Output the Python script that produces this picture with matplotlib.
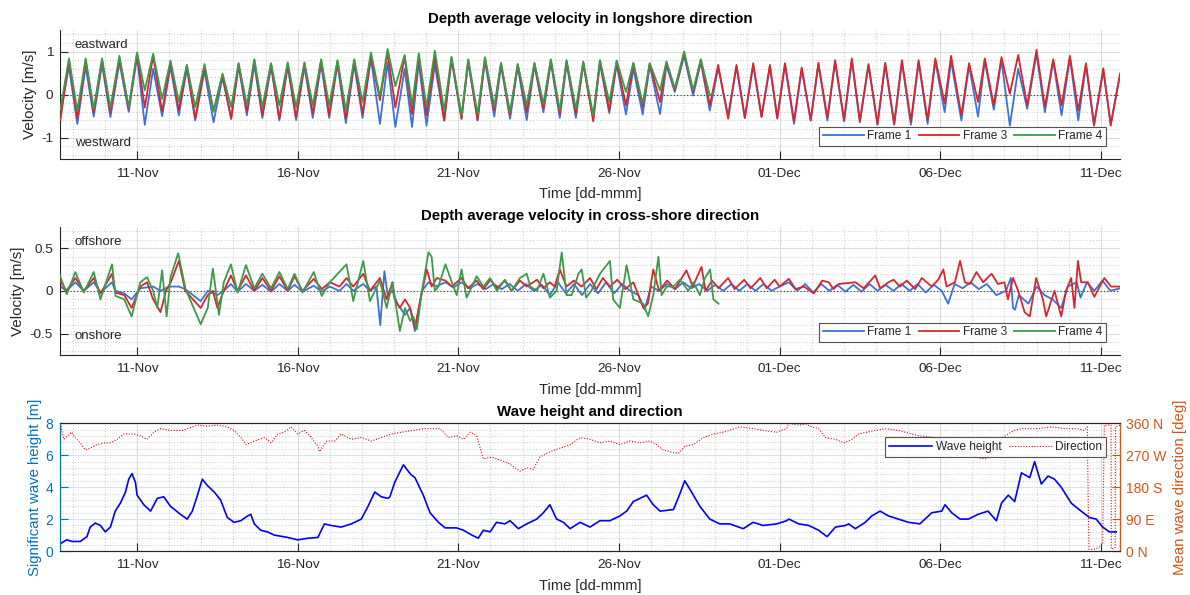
from datetime import datetime

import matplotlib
matplotlib.use("Agg")
import matplotlib.pyplot as plt
import matplotlib.dates as mdates
from matplotlib.ticker import MultipleLocator, FixedLocator, FormatStrFormatter
import numpy as np

plt.rcParams['font.family'] = ['Liberation Sans', 'DejaVu Sans']
plt.rcParams['axes.unicode_minus'] = False

# ---- longshore velocity: tidal turning points (day of November, Dec 1 = 31) ----
lng_t = [8.61, 8.88, 9.14, 9.40, 9.65, 9.91, 10.17, 10.45, 10.74, 11.0, 11.24, 11.5, 11.78,
         12.04, 12.3, 12.55, 12.81, 13.1, 13.38, 13.66, 13.93, 14.16, 14.42, 14.65, 14.9,
         15.17, 15.43, 15.69, 15.95, 16.21, 16.47, 16.73, 16.98, 17.24, 17.5, 17.76, 18.02,
         18.28, 18.56, 18.8, 19.04, 19.33, 19.56, 19.77, 20.01, 20.27, 20.56, 20.79, 21.1,
         21.31, 21.6, 21.83, 22.12, 22.33, 22.61, 22.85, 23.13, 23.37, 23.65, 23.88, 24.16,
         24.37, 24.66, 24.89, 25.2, 25.41, 25.7, 25.93, 26.22, 26.45, 26.74, 26.96, 27.28,
         27.48, 27.74, 28.03, 28.31, 28.55, 28.83, 29.09, 29.4, 29.66, 29.92, 30.18, 30.44,
         30.7, 30.93, 31.17, 31.45, 31.69, 31.97, 32.21, 32.49, 32.73, 33.01, 33.25, 33.5,
         33.77, 34.05, 34.29, 34.57, 34.81, 35.09, 35.33, 35.61, 35.85, 36.14, 36.34, 36.66,
         36.9, 37.18, 37.39, 37.67, 37.91, 38.17, 38.43, 38.71, 39.0, 39.26, 39.52, 39.78,
         40.04, 40.3, 40.54, 40.79, 41.08, 41.31, 41.6]
lng_f1 = [-0.45, 0.65, -0.68, 0.65, -0.51, 0.7, -0.52, 0.75, -0.4, 0.88, -0.7, 0.6, -0.5,
          0.65, -0.48, 0.6, -0.6, 0.55, -0.64, 0.4, -0.56, 0.65, -0.48, 0.7, -0.54,
          0.65, -0.6, 0.65, -0.59, 0.65, -0.54, 0.7, -0.54, 0.7, -0.66, 0.7, -0.54,
          0.85, -0.68, 0.75, -0.75, 0.6, -0.75, 0.75, -0.72, 0.69, -0.6, 0.8, -0.56,
          0.75, -0.6, 0.78, -0.51, 0.68, -0.56, 0.65, -0.59, 0.68, -0.41, 0.75, -0.54,
          0.72, -0.54, 0.7, -0.56, 0.72, -0.43, 0.7, -0.46, 0.6, -0.46, 0.68, -0.45,
          0.68, 0.06, 0.9, -0.02, 0.75, -0.37, 0.62, -0.48, 0.65, -0.54, 0.68, -0.51,
          0.65, -0.56, 0.7, -0.68, 0.6, -0.6, 0.7, -0.6, 0.75, -0.62, 0.8, -0.64,
          0.68, -0.7, 0.7, -0.7, 0.75, -0.7, 0.75, -0.68, 0.78, -0.41, 0.78, -0.6,
          0.68, -0.51, 0.78, -0.35, 0.8, -0.72, 0.6, -0.33, 0.95, -0.41, 0.78, -0.48,
          0.85, -0.6, 0.68, -0.68, 0.55, -0.68, 0.45]
lng_f3 = [-0.6, 0.8, -0.56, 0.8, -0.41, 0.8, -0.43, 0.85, -0.33, 0.95, -0.3, 0.9, -0.4,
          0.75, -0.37, 0.68, -0.56, 0.65, -0.37, 0.45, -0.56, 0.72, -0.41, 0.8, -0.48,
          0.72, -0.56, 0.72, -0.54, 0.73, -0.45, 0.8, -0.48, 0.78, -0.56, 0.8, -0.45,
          0.9, -0.13, 0.98, -0.3, 0.88, -0.45, 0.9, -0.48, 0.88, -0.6, 0.85, -0.56,
          0.8, -0.59, 0.85, -0.37, 0.72, -0.48, 0.7, -0.41, 0.72, -0.33, 0.8, -0.45,
          0.78, -0.45, 0.75, -0.62, 0.78, -0.37, 0.77, -0.25, 0.72, -0.29, 0.72, -0.17,
          0.75, 0.1, 0.97, 0.06, 0.8, -0.25, 0.69, -0.56, 0.69, -0.54, 0.73, -0.52,
          0.69, -0.54, 0.73, -0.62, 0.63, -0.6, 0.74, -0.54, 0.8, -0.59, 0.84, -0.62,
          0.71, -0.68, 0.74, -0.68, 0.8, -0.62, 0.8, -0.59, 0.84, -0.21, 0.9, -0.48,
          0.73, -0.17, 0.84, -0.25, 0.87, 0.02, 0.92, -0.25, 1.04, -0.29, 0.82, -0.25,
          0.9, -0.37, 0.73, -0.72, 0.61, -0.72, 0.49]
lng_f4 = [-0.35, 0.84, -0.37, 0.84, -0.33, 0.84, -0.3, 0.9, -0.29, 0.98, 0.1, 0.95, -0.1,
          0.79, -0.17, 0.69, -0.29, 0.71, -0.4, 0.49, -0.29, 0.73, -0.25, 0.82, -0.29,
          0.73, -0.25, 0.75, -0.29, 0.75, -0.25, 0.82, -0.25, 0.8, -0.37, 0.82, -0.17,
          0.98, -0.05, 1.06, 0.2, 0.92, -0.25, 0.96, -0.29, 1.02, -0.37, 0.88, -0.48,
          0.82, -0.45, 0.87, -0.27, 0.74, -0.41, 0.71, -0.25, 0.74, -0.21, 0.82, -0.37,
          0.8, -0.33, 0.77, -0.48, 0.8, -0.17, 0.79, 0.06, 0.74, -0.21, 0.73, 0.1,
          0.77, 0.14, 1.0, 0.1, 0.82, -0.02, 0.05]
lng_f4_t = lng_t[:79] + [28.95]

# ---- cross-shore velocity ----
crs_f1_t = [8.58, 8.8, 9.08, 9.34, 9.65, 9.86, 10.22, 10.33, 10.6, 10.83, 11.1, 11.5, 11.73,
            12.0, 12.3, 12.5, 12.98, 13.2, 13.5, 13.7, 13.92, 14.13, 14.39, 14.65, 14.9,
            15.17, 15.43, 15.69, 15.9, 16.15, 16.5, 16.75, 17.0, 17.3, 17.52, 17.73, 18.04,
            18.25, 18.45, 18.57, 18.7, 18.8, 18.95, 19.1, 19.34, 19.5, 19.65, 19.87, 20.07,
            20.3, 20.6, 20.85, 21.1, 21.35, 21.6, 21.85, 22.1, 22.35, 22.6, 22.85, 23.1,
            23.35, 23.6, 23.85, 24.1, 24.35, 24.6, 24.85, 25.1, 25.35, 25.6, 25.85, 26.1,
            26.35, 26.6, 26.8, 27.0, 27.25, 27.5, 27.75, 28.0, 28.25, 28.5, 28.75, 29.0,
            29.25, 29.5, 29.75, 30.0, 30.25, 30.5, 30.75, 31.0, 31.29, 31.55, 31.8, 32.05,
            32.3, 32.55, 32.8, 33.05, 33.3, 33.55, 33.8, 34.05, 34.3, 34.55, 34.8, 35.05,
            35.3, 35.55, 35.8, 36.05, 36.25, 36.45, 36.7, 36.95, 37.2, 37.45, 37.75, 38.05,
            38.2, 38.27, 38.33, 38.45, 38.75, 39.0, 39.25, 39.5, 39.77, 39.97, 40.25, 40.37,
            40.57, 40.8, 41.05, 41.3, 41.6]
crs_f1 = [0.06, 0.0, 0.1, 0.0, 0.1, -0.02, 0.1, 0.0, -0.03, -0.1, 0.03, 0.05, 0.0,
          0.05, 0.05, 0.02, -0.12, 0.0, -0.05, 0.0, 0.08, -0.01, 0.08, 0.0, 0.07,
          -0.01, 0.08, 0.0, 0.07, -0.01, 0.06, -0.01, 0.05, 0.0, 0.08, 0.0, 0.08,
          0.0, 0.05, -0.4, 0.23, -0.05, 0.0, -0.15, -0.28, -0.2, -0.47, 0.0, 0.1,
          0.05, 0.1, 0.04, 0.1, 0.03, 0.08, 0.02, 0.08, 0.02, 0.08, 0.0, 0.08,
          0.0, 0.07, -0.05, 0.1, -0.03, 0.08, -0.05, 0.08, -0.03, 0.1, -0.03, 0.08,
          0.0, -0.05, -0.22, 0.05, 0.0, 0.08, 0.02, 0.1, 0.03, 0.08, 0.0, 0.07,
          0.0, 0.08, 0.0, 0.08, 0.0, 0.08, 0.0, 0.05, 0.1, 0.0, 0.08, -0.02,
          0.08, 0.0, 0.07, -0.01, 0.07, -0.01, 0.08, 0.0, 0.07, 0.0, 0.08, 0.0,
          0.08, -0.02, 0.07, 0.0, -0.15, 0.08, 0.03, 0.1, 0.02, 0.08, -0.05, 0.0,
          0.15, -0.2, -0.22, -0.05, -0.15, 0.05, -0.05, -0.1, -0.2, 0.05, 0.1, -0.08,
          0.1, 0.0, 0.12, 0.0, 0.03]
crs_f3_t = [8.58, 8.8, 9.08, 9.34, 9.65, 9.86, 10.22, 10.33, 10.6, 10.83, 11.1, 11.31, 11.5,
            11.73, 11.9, 12.05, 12.3, 12.5, 12.98, 13.2, 13.36, 13.5, 13.7, 13.92, 14.13,
            14.39, 14.65, 14.9, 15.17, 15.43, 15.69, 15.9, 16.15, 16.5, 16.75, 17.0, 17.3,
            17.52, 17.73, 18.04, 18.25, 18.56, 18.77, 18.95, 19.02, 19.18, 19.34, 19.5,
            19.65, 19.82, 20.02, 20.17, 20.33, 20.6, 20.8, 21.1, 21.3, 21.57, 21.78, 22.0,
            22.2, 22.45, 22.66, 22.92, 23.13, 23.45, 23.65, 23.85, 24.0, 24.16, 24.37, 24.6,
            24.84, 25.1, 25.3, 25.5, 25.72, 25.95, 26.2, 26.45, 26.76, 26.9, 27.07, 27.25,
            27.5, 27.75, 28.1, 28.3, 28.57, 28.7, 28.9, 29.1, 29.4, 29.6, 29.9, 30.1,
            30.4, 30.6, 30.85, 31.0, 31.29, 31.5, 31.76, 32.07, 32.33, 32.53, 32.68, 32.84,
            33.36, 33.62, 33.98, 34.13, 34.39, 34.55, 34.75, 34.96, 35.22, 35.43, 35.74,
            35.94, 36.1, 36.2, 36.46, 36.62, 36.77, 36.93, 37.13, 37.34, 37.6, 37.8, 38.0,
            38.11, 38.27, 38.43, 38.63, 38.79, 38.99, 39.2, 39.3, 39.56, 39.77, 39.92,
            40.08, 40.18, 40.29, 40.39, 40.6, 40.8, 41.11, 41.32, 41.6]
crs_f3 = [0.13, 0.0, 0.15, 0.0, 0.15, -0.03, 0.2, -0.02, -0.05, -0.2, 0.05, 0.1, -0.1,
          -0.25, 0.0, 0.1, 0.35, 0.0, -0.2, -0.05, 0.0, -0.2, 0.0, 0.18, 0.0,
          0.18, 0.0, 0.15, 0.0, 0.17, 0.0, 0.17, 0.0, 0.14, 0.02, 0.1, 0.05,
          0.15, 0.05, 0.2, 0.0, 0.15, -0.1, 0.1, -0.1, -0.2, -0.1, -0.2,
          -0.43, -0.1, 0.25, 0.05, 0.15, 0.12, 0.05, 0.15, 0.03, 0.12, 0.02, 0.13,
          0.03, 0.12, 0.0, 0.12, 0.05, 0.13, 0.03, 0.1, 0.05, 0.25, 0.05, 0.12,
          0.05, 0.15, 0.02, 0.15, 0.05, 0.13, 0.02, 0.1, -0.2, -0.15, 0.25, 0.0,
          0.12, 0.02, 0.24, 0.05, 0.28, 0.0, 0.12, 0.03, 0.15, 0.02, 0.13, 0.03,
          0.15, 0.03, 0.13, 0.05, 0.14, 0.02, 0.05, -0.03, 0.12, 0.1, 0.02, 0.08,
          0.1, 0.03, 0.18, 0.03, 0.1, 0.13, 0.05, 0.12, 0.02, 0.15, 0.05,
          0.13, 0.25, 0.05, 0.1, 0.35, 0.1, 0.08, 0.22, 0.1, 0.2, 0.08, 0.1,
          -0.1, 0.15, 0.0, -0.25, -0.3, 0.15, -0.1, -0.3, 0.0, -0.3, 0.0,
          0.15, -0.2, 0.35, 0.1, 0.1, -0.07, 0.15, 0.05, 0.05]
crs_f4_t = [8.58, 8.81, 9.08, 9.34, 9.65, 9.86, 10.22, 10.33, 10.6, 10.83, 11.1, 11.31, 11.5,
            11.63, 11.78, 11.92, 12.04, 12.28, 12.51, 12.98, 13.2, 13.36, 13.55, 13.7, 13.92,
            14.13, 14.39, 14.65, 14.9, 15.17, 15.43, 15.69, 15.9, 16.15, 16.5, 16.75, 17.0,
            17.52, 17.73, 18.04, 18.25, 18.56, 18.77, 18.95, 19.18, 19.34, 19.5, 19.6, 19.71,
            19.87, 20.07, 20.17, 20.27, 20.38, 20.6, 20.8, 20.95, 21.1, 21.26, 21.57, 21.78,
            21.99, 22.2, 22.45, 22.66, 22.92, 23.13, 23.24, 23.45, 23.65, 23.85, 24.06, 24.22,
            24.37, 24.53, 24.74, 24.84, 24.98, 25.14, 25.41, 25.72, 25.82, 26.03, 26.24, 26.45,
            26.76, 26.91, 27.07, 27.23, 27.33, 27.49, 27.7, 27.9, 28.16, 28.32, 28.52, 28.68,
            28.84, 28.94, 29.1]
crs_f4 = [0.2, -0.04, 0.22, -0.02, 0.22, -0.1, 0.31, -0.06, -0.1, -0.3, 0.1, 0.16, 0.0,
          -0.2, 0.24, -0.3, 0.16, 0.44, 0.02, -0.39, -0.2, 0.26, -0.28, 0.1, 0.31,
          -0.02, 0.3, 0.03, 0.2, 0.03, 0.22, 0.02, 0.2, -0.02, 0.22, -0.06, 0.1,
          0.31, -0.12, 0.35, -0.12, 0.12, -0.2, 0.1, -0.47, -0.2, -0.35, -0.3, -0.45,
          0.0, 0.45, 0.4, 0.0, 0.05, 0.31, 0.1, -0.05, 0.25, -0.08, 0.17, 0.05,
          0.15, 0.0, 0.13, 0.0, 0.15, 0.2, 0.05, 0.0, 0.2, -0.08, 0.0, 0.45,
          -0.05, -0.05, 0.2, 0.25, -0.08, 0.0, 0.2, 0.35, -0.1, -0.2, 0.3, -0.1,
          -0.15, -0.3, -0.05, 0.4, -0.05, 0.05, 0.05, 0.13, 0.0, 0.1, -0.05, 0.15,
          0.25, -0.1, -0.15]

# ---- wave height and mean direction ----
hs_t = [8.6, 8.81, 8.97, 9.23, 9.44, 9.54, 9.7, 9.86, 10.01, 10.17, 10.32, 10.48, 10.64,
        10.74, 10.84, 10.95, 11.0, 11.21, 11.42, 11.63, 11.83, 12.04, 12.35, 12.56, 12.72,
        12.88, 13.03, 13.19, 13.4, 13.6, 13.81, 14.02, 14.23, 14.44, 14.54, 14.65, 14.85,
        15.06, 15.27, 15.69, 16.0, 16.31, 16.63, 16.83, 17.04, 17.35, 17.67, 17.98, 18.19,
        18.4, 18.6, 18.81, 18.87, 19.02, 19.29, 19.52, 19.65, 19.91, 20.12, 20.38, 20.59,
        20.95, 21.16, 21.42, 21.62, 21.78, 21.99, 22.19, 22.45, 22.61, 22.87, 23.13, 23.44,
        23.65, 23.85, 24.06, 24.27, 24.48, 24.79, 25.1, 25.41, 25.72, 26.03, 26.24, 26.45,
        26.86, 27.07, 27.28, 27.7, 27.9, 28.05, 28.26, 28.52, 28.83, 29.14, 29.45, 29.87,
        30.18, 30.49, 30.91, 31.22, 31.29, 31.6, 31.91, 32.22, 32.48, 32.74, 33.05, 33.15,
        33.36, 33.67, 33.87, 34.13, 34.39, 34.7, 35.01, 35.37, 35.53, 35.74, 36.05, 36.15,
        36.36, 36.62, 36.88, 37.18, 37.49, 37.75, 37.91, 38.12, 38.32, 38.53, 38.79, 38.94,
        39.15, 39.36, 39.56, 39.77, 40.08, 40.39, 40.65, 40.86, 41.06, 41.27, 41.48]
hs = [0.45, 0.7, 0.6, 0.6, 0.9, 1.5, 1.75, 1.6, 1.2, 1.5, 2.5, 3.0, 3.7,
      4.5, 4.85, 4.3, 3.5, 2.9, 2.5, 3.3, 3.4, 2.8, 2.3, 2.0, 2.5,
      3.5, 4.5, 4.1, 3.7, 3.2, 2.1, 1.8, 1.9, 2.2, 2.3, 1.7, 1.3,
      1.2, 1.0, 0.85, 0.7, 0.8, 0.85, 1.7, 1.6, 1.5, 1.7, 2.0, 2.8,
      3.7, 3.4, 3.3, 3.4, 4.3, 5.4, 4.8, 4.6, 3.5, 2.4, 1.8, 1.45,
      1.45, 1.3, 1.0, 0.8, 1.3, 1.2, 1.8, 1.7, 1.9, 1.4, 1.7, 2.0,
      2.4, 2.9, 2.0, 1.8, 1.4, 1.8, 1.5, 1.9, 1.9, 2.2, 2.5, 3.1,
      3.5, 2.9, 2.5, 2.6, 3.6, 4.4, 3.7, 2.8, 2.0, 1.7, 1.7, 1.4,
      1.8, 1.6, 1.7, 1.9, 2.0, 1.7, 1.6, 1.3, 0.9, 1.5, 1.6, 1.7,
      1.4, 1.8, 2.2, 2.5, 2.2, 2.0, 1.8, 1.7, 2.0, 2.4, 2.5, 2.9,
      2.4, 2.0, 2.0, 2.3, 2.5, 1.9, 3.0, 3.5, 3.1, 4.9, 4.6, 5.6,
      4.2, 4.7, 4.5, 4.0, 3.0, 2.5, 2.1, 2.0, 1.5, 1.2, 1.2]

dir_t = [8.6, 8.62, 8.72, 8.83, 8.97, 9.07, 9.23, 9.39, 9.54, 9.75, 9.96, 10.17, 10.38,
         10.58, 10.9, 11.1, 11.31, 11.52, 11.73, 12.04, 12.41, 12.56, 12.88, 13.19, 13.5,
         13.81, 14.02, 14.23, 14.39, 14.65, 14.96, 15.17, 15.38, 15.58, 15.79, 16.0, 16.21,
         16.42, 16.63, 16.68, 16.9, 17.15, 17.35, 17.67, 17.98, 18.29, 18.6, 18.92, 19.23,
         19.91, 20.43, 20.54, 20.69, 20.95, 21.16, 21.37, 21.57, 21.78, 22.04, 22.35, 22.61,
         22.92, 23.13, 23.33, 23.54, 23.85, 24.17, 24.48, 24.79, 25.1, 25.41, 25.72, 26.03,
         26.34, 26.65, 26.96, 27.17, 27.38, 27.59, 27.85, 28.05, 28.32, 28.63, 28.94, 29.25,
         29.77, 30.18, 30.49, 30.91, 31.22, 31.29, 31.6, 31.81, 32.01, 32.22, 32.43, 32.74,
         33.0, 33.26, 33.46, 33.87, 34.29, 34.7, 35.12, 35.33, 35.8, 36.4, 36.8, 37.2,
         37.45, 37.6, 37.95, 38.3, 38.53, 39.05, 39.46, 39.88, 40.27, 40.48, 40.58, 40.63,
         40.79, 40.94, 41.06, 41.11, 41.32, 41.33, 41.45, 41.46, 41.6]
wdir = [5, 355, 315, 325, 335, 320, 305, 285, 290, 300, 305, 305, 315,
        330, 330, 325, 315, 335, 345, 340, 340, 345, 355, 352, 355,
        350, 340, 320, 300, 310, 320, 305, 330, 335, 350, 330, 340,
        320, 295, 280, 310, 310, 330, 315, 320, 310, 320, 330, 335,
        345, 345, 335, 320, 325, 315, 335, 325, 260, 265, 255, 245,
        225, 235, 230, 265, 280, 290, 300, 320, 315, 305, 310, 300,
        310, 305, 310, 300, 285, 280, 275, 295, 300, 320, 330, 335,
        350, 345, 340, 335, 345, 360, 355, 358, 350, 345, 320, 315,
        305, 315, 330, 338, 345, 340, 330, 325, 320, 300, 280, 262,
        260, 275, 320, 340, 345, 345, 350, 345, 345, 340, 350, 5,
        5, 10, 20, 355, 355, 5, 10, 350, 355]

# ---- colours ----
c_f1 = '#3b72d9'
c_f3 = '#d7262e'
c_f4 = '#3d9a4a'
c_txt = '#262626'
c_left = '#0072bd'
c_right = '#d95319'

t0 = mdates.date2num(datetime(2015, 10, 31))


def tnum(days):
    return t0 + np.asarray(days, dtype=float)


xlim = (tnum(8.6), tnum(41.6))


def style_time_axis(ax):
    ax.set_xlim(*xlim)
    ax.xaxis.set_major_locator(mdates.DayLocator(bymonthday=[1, 6, 11, 16, 21, 26]))
    ax.xaxis.set_major_formatter(mdates.DateFormatter('%d-%b'))
    ax.xaxis.set_minor_locator(mdates.DayLocator())
    ax.yaxis.set_major_formatter(FormatStrFormatter('%g'))
    ax.tick_params(axis='both', which='major', direction='in', length=6, width=0.8,
                   colors=c_txt, labelsize=9.7)
    ax.tick_params(axis='x', which='major', pad=6)
    ax.tick_params(axis='y', which='major', pad=5)
    ax.tick_params(axis='both', which='minor', length=0)
    ax.grid(True, which='major', color='#dcdcdc', lw=0.8, ls='-')
    ax.grid(True, which='minor', color='#b8b8b8', lw=0.6, ls=(0, (1, 2.5)))
    ax.set_axisbelow(True)
    ax.set_xlabel('Time [dd-mmm]', fontsize=10.5, color=c_txt, labelpad=5.5)


def style_legend(leg):
    leg.get_frame().set_edgecolor(c_txt)
    leg.get_frame().set_linewidth(0.8)
    for txt in leg.get_texts():
        txt.set_color(c_txt)


fig = plt.figure(figsize=(11.9, 5.95), dpi=100)

# ---------------- longshore ----------------
ax1 = fig.add_axes([0.0504, 0.7323, 0.8908, 0.2173])
ax1.axhline(0, color='#333333', lw=0.8, ls=(0, (1, 2)), zorder=1)
ax1.plot(tnum(lng_t), lng_f1, color=c_f1, lw=1.3, label='Frame 1', zorder=2)
ax1.plot(tnum(lng_t), lng_f3, color=c_f3, lw=1.3, label='Frame 3', zorder=3)
ax1.plot(tnum(lng_f4_t), lng_f4, color=c_f4, lw=1.3, label='Frame 4', zorder=4)
ax1.set_ylim(-1.5, 1.5)
ax1.yaxis.set_major_locator(FixedLocator([-1, 0, 1]))
ax1.yaxis.set_minor_locator(MultipleLocator(0.2))
style_time_axis(ax1)
ax1.set_ylabel('Velocity [m/s]', fontsize=11, color=c_txt, labelpad=3)
ax1.set_title('Depth average velocity in longshore direction', fontsize=10.8,
              fontweight='bold', pad=5)
ax1.text(0.014, 0.884, 'eastward', transform=ax1.transAxes, fontsize=9.5,
         color=c_txt, va='center')
ax1.text(0.014, 0.126, 'westward', transform=ax1.transAxes, fontsize=9.5,
         color=c_txt, va='center')

# ---------------- cross-shore ----------------
ax2 = fig.add_axes([0.0504, 0.4034, 0.8908, 0.2156])
ax2.axhline(0, color='#333333', lw=0.8, ls=(0, (1, 2)), zorder=1)
ax2.plot(tnum(crs_f1_t), crs_f1, color=c_f1, lw=1.3, label='Frame 1', zorder=2)
ax2.plot(tnum(crs_f3_t), crs_f3, color=c_f3, lw=1.3, label='Frame 3', zorder=3)
ax2.plot(tnum(crs_f4_t), crs_f4, color=c_f4, lw=1.3, label='Frame 4', zorder=4)
ax2.set_ylim(-0.75, 0.75)
ax2.yaxis.set_major_locator(FixedLocator([-0.5, 0, 0.5]))
ax2.yaxis.set_minor_locator(MultipleLocator(0.1))
style_time_axis(ax2)
ax2.set_ylabel('Velocity [m/s]', fontsize=11, color=c_txt, labelpad=3)
ax2.set_title('Depth average velocity in cross-shore direction', fontsize=10.8,
              fontweight='bold', pad=5)
ax2.text(0.014, 0.883, 'offshore', transform=ax2.transAxes, fontsize=9.5,
         color=c_txt, va='center')
ax2.text(0.014, 0.15, 'onshore', transform=ax2.transAxes, fontsize=9.5,
         color=c_txt, va='center')

for ax in (ax1, ax2):
    for side in ('top', 'right'):
        ax.spines[side].set_visible(False)
    for side in ('left', 'bottom'):
        ax.spines[side].set_color(c_txt)
        ax.spines[side].set_linewidth(0.8)
    leg = ax.legend(loc='lower right', bbox_to_anchor=(0.987, 0.103), ncol=3,
                    fontsize=8.6, frameon=True, fancybox=False, handlelength=3.4,
                    handletextpad=0.3, columnspacing=0.6, borderpad=0.3,
                    borderaxespad=0)
    style_legend(leg)

# ---------------- wave height and direction ----------------
ax3 = fig.add_axes([0.0504, 0.0739, 0.8908, 0.2146])
ax3r = ax3.twinx()
h_hs, = ax3.plot(tnum(hs_t), hs, color='#0000ff', lw=1.2, label='Wave height', zorder=3)
h_dir, = ax3r.plot(tnum(dir_t), wdir, color='#ff0000', lw=0.8, ls=(0, (1, 1.5)),
                   label='Direction')
ax3.set_ylim(0, 8)
ax3.yaxis.set_major_locator(MultipleLocator(2))
ax3.yaxis.set_minor_locator(MultipleLocator(0.4))
style_time_axis(ax3)
ax3.grid(True, which='major', axis='y', color='#d3e5f1', lw=0.8)
ax3.tick_params(axis='y', which='major', colors=c_left, labelsize=10)
ax3.set_ylabel('Significant wave height [m]', fontsize=10.7, color=c_left, labelpad=2)
ax3.set_title('Wave height and direction', fontsize=10.8, fontweight='bold', pad=5)

ax3r.set_xlim(*xlim)
ax3r.set_ylim(0, 360)
ax3r.yaxis.set_major_locator(FixedLocator([0, 90, 180, 270, 360]))
ax3r.set_yticklabels(['0 N', '90 E', '180 S', '270 W', '360 N'])
ax3r.tick_params(axis='y', which='major', direction='in', length=6, pad=4,
                 colors=c_right, labelsize=10)
ax3r.set_ylabel('Mean wave direction [deg]', fontsize=10.8, color=c_right, labelpad=5)

ax3.spines['left'].set_color(c_left)
ax3r.spines['left'].set_color(c_left)
ax3r.spines['right'].set_color(c_right)
for a in (ax3, ax3r):
    a.spines['top'].set_color(c_txt)
    a.spines['bottom'].set_color(c_txt)
    for s in a.spines.values():
        s.set_linewidth(0.8)

leg3 = ax3r.legend(handles=[h_hs, h_dir], loc='upper right', bbox_to_anchor=(0.9865, 0.89),
                   ncol=2, fontsize=8.6, frameon=True, fancybox=False, handlelength=3.6,
                   handletextpad=0.3, columnspacing=0.6, borderpad=0.3, borderaxespad=0)
style_legend(leg3)

fig.savefig('out.png', dpi=100)
